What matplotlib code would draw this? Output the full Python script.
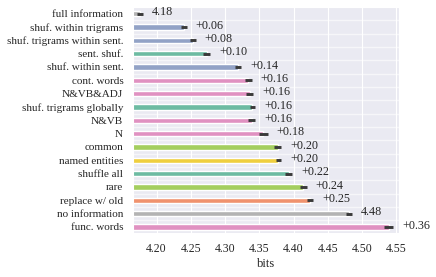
import matplotlib
matplotlib.use('Agg')
import matplotlib.pyplot as plt
import seaborn as sns
import numpy as np

conditions = ['full information', 'shuf. within trigrams', 'shuf. trigrams within sent.',
              'sent. shuf.', 'shuf. within sent.', 'cont. words', 'N&VB&ADJ',
              'shuf. trigrams globally', 'N&VB', 'N', 'common', 'named entities',
              'shuffle all', 'rare', 'replace w/ old', 'no information', 'func. words']
means = [4.176, 4.240, 4.253, 4.273, 4.319, 4.334, 4.336, 4.340, 4.339, 4.356,
         4.377, 4.378, 4.393, 4.414, 4.424, 4.481, 4.539]
errors = [0.004, 0.004, 0.004, 0.005, 0.005, 0.005, 0.005, 0.004, 0.005, 0.006,
          0.005, 0.004, 0.005, 0.005, 0.005, 0.004, 0.007]
groups = ['none', 'order', 'order', 'sent', 'order', 'pos', 'pos', 'sent', 'pos', 'pos',
          'freq', 'ent', 'sent', 'freq', 'old', 'none', 'pos']
absolute = ['full information', 'no information']

pal = sns.color_palette('Set2', desat=0.85)
group_colors = {'sent': pal[0], 'old': pal[1], 'order': pal[2], 'pos': pal[3],
                'freq': pal[4], 'ent': pal[5], 'none': pal[7]}

sns.set_style('darkgrid')
plt.rcParams['font.family'] = ['Liberation Serif', 'DejaVu Serif']

fig = plt.figure(figsize=(4.36, 2.77), dpi=100)
ax = fig.add_axes([0.305, 0.159, 0.61, 0.816])

y = np.arange(len(conditions))
ax.barh(y, means, height=0.4, color=[group_colors[g] for g in groups], zorder=2)
ax.errorbar(means, y, xerr=errors, fmt='none', ecolor='#3a3a3a', elinewidth=2.1,
            capsize=0, zorder=3)

base = means[0]
for yi, name, m, e in zip(y, conditions, means, errors):
    txt = f'{m:.2f}' if name in absolute else f'+{m - base:.2f}'
    ax.annotate(txt, (m + e, yi), xytext=(6.5, 1), textcoords='offset points',
                va='center', ha='left', fontsize=8.7)

ax.set_yticks(y)
ax.set_yticklabels(conditions, fontsize=8)
ax.set_yticks(y + 0.5, minor=True)
ax.grid(False, axis='y', which='major')
ax.grid(True, axis='y', which='minor', color='white', alpha=0.6, lw=1)
ax.tick_params(axis='y', which='both', length=0, pad=7)
ax.set_xticks([4.20, 4.25, 4.30, 4.35, 4.40, 4.45, 4.50, 4.55])
ax.set_xticklabels(['4.20', '4.25', '4.30', '4.35', '4.40', '4.45', '4.50', '4.55'], fontsize=8.5)
ax.tick_params(axis='x', pad=4)
ax.set_xlim(4.1655, 4.554)
ax.set_ylim(16.45, -0.5)
ax.set_xlabel('bits', fontsize=9, labelpad=2)
ax.set_axisbelow(True)

fig.savefig('out.png', dpi=100)
